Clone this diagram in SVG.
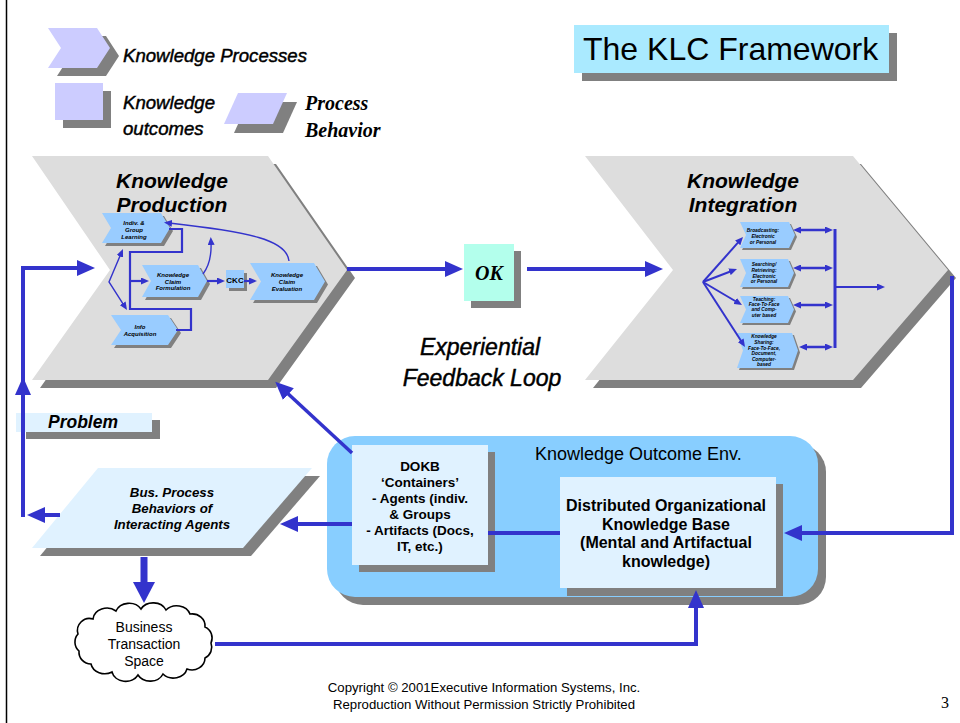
<svg xmlns="http://www.w3.org/2000/svg" width="960" height="723" viewBox="0 0 960 723">
<style>
.sh{fill:#808080}
.chev{fill:#DDDDDD}
.nd{fill:#99CCFF}
.pale{fill:#E0F2FF}
.lav{fill:#CCCCFF}
.ln{fill:none;stroke:#3333CC;stroke-linejoin:miter}
.t{font-family:"Liberation Sans",Arial,sans-serif;fill:#000}
.bi{font-weight:bold;font-style:italic}
.b{font-weight:bold}
.i{font-style:italic}
.semi{stroke:#000;stroke-width:0.45}
.tm{font-family:"Liberation Serif","Times New Roman",serif;font-weight:bold;font-style:italic;fill:#000}
.mid{text-anchor:middle}
</style>
<defs>
<marker id="ah" viewBox="0 0 18 16" refX="6" refY="8" markerWidth="18" markerHeight="16" markerUnits="userSpaceOnUse" orient="auto-start-reverse"><path d="M0,0 L18,8 L0,16 z" fill="#3333CC"/></marker>
<marker id="ahx" viewBox="0 0 21 22" refX="8" refY="11" markerWidth="21" markerHeight="22" markerUnits="userSpaceOnUse" orient="auto-start-reverse"><path d="M0,0 L21,11 L0,22 z" fill="#3333CC"/></marker>
<marker id="ahs" viewBox="0 0 8 7" refX="3" refY="3.5" markerWidth="8" markerHeight="7" markerUnits="userSpaceOnUse" orient="auto-start-reverse"><path d="M0,0 L8,3.5 L0,7 z" fill="#3333CC"/></marker>
</defs>
<rect width="960" height="723" fill="#fff"/>
<line x1="6.5" y1="0" x2="6.5" y2="723" stroke="#000" stroke-width="1.5"/>

<g id="legend">
<polygon class="sh" points="57,36 106,36 119,56 106,76 57,76 70,56"/>
<polygon class="lav" points="48,28 97,28 110,48 97,68 48,68 61,48"/>
<text class="t i semi" x="123" y="62" font-size="18.6">Knowledge Processes</text>
<rect class="sh" x="63" y="91" width="48" height="37"/>
<rect class="lav" x="55" y="83" width="48" height="37"/>
<text class="t i semi" x="123" y="109" font-size="18.6">Knowledge</text>
<text class="t i semi" x="123" y="135" font-size="18.6">outcomes</text>
<polygon class="sh" points="248,102 297,102 283,133 234,133"/>
<polygon class="lav" points="238,93 287,93 273,124 224,124"/>
<text class="tm" x="305" y="110" font-size="20">Process</text>
<text class="tm" x="305" y="137" font-size="20">Behavior</text>
</g>

<g id="title">
<rect class="sh" x="582" y="33" width="315" height="48"/>
<rect x="574" y="25" width="315" height="48" fill="#AAEAFF"/>
<text class="t" x="583" y="60" font-size="32">The KLC Framework</text>
</g>

<g id="knowledge-production">
<polygon class="sh" points="40,164 276,164 355,278 276,388 40,388 118,278"/>
<polygon class="chev" points="32,156 268,156 347,270 268,380 32,380 110,270"/>
<text class="t bi mid" x="172" y="188" font-size="21">Knowledge</text>
<text class="t bi mid" x="172" y="212" font-size="21">Production</text>
</g>

<g id="kp-indiv-learning">
<polygon class="sh" points="105,216 164,216 173,231 164,246 105,246 114,231"/>
<polygon class="nd" points="102,213 161,213 170,228 161,243 102,243 111,228"/>
<text class="t bi mid" x="134" y="224.5" font-size="6">Indiv. &amp;</text>
<text class="t bi mid" x="134" y="231.5" font-size="6">Group</text>
<text class="t bi mid" x="134" y="238.5" font-size="6">Learning</text>
</g>
<g id="kp-claim-formulation">
<polygon class="sh" points="145,268 201,268 210,284 201,300 145,300 154,284"/>
<polygon class="nd" points="142,265 198,265 207,281 198,297 142,297 151,281"/>
<text class="t bi mid" x="173" y="277" font-size="6">Knowledge</text>
<text class="t bi mid" x="173" y="283.5" font-size="6">Claim</text>
<text class="t bi mid" x="173" y="290" font-size="6">Formulation</text>
</g>
<g id="kp-ckc">
<rect class="sh" x="229" y="273" width="18" height="18"/>
<rect class="nd" x="226" y="270" width="18" height="18"/>
<text class="t b mid" x="235" y="282.5" font-size="8">CKC</text>
</g>
<g id="kp-claim-evaluation">
<polygon class="sh" points="253,266 317,266 328,284.5 317,303 253,303 264,284.5"/>
<polygon class="nd" points="250,263 314,263 325,281.5 314,300 250,300 261,281.5"/>
<text class="t bi mid" x="287" y="277" font-size="6">Knowledge</text>
<text class="t bi mid" x="287" y="284" font-size="6">Claim</text>
<text class="t bi mid" x="287" y="291" font-size="6">Evaluation</text>
</g>
<g id="kp-info-acquisition">
<polygon class="sh" points="114,318 171,318 181,333 171,348 114,348 124,333"/>
<polygon class="nd" points="111,315 168,315 178,330 168,345 111,345 121,330"/>
<text class="t bi mid" x="140" y="329" font-size="6">Info</text>
<text class="t bi mid" x="140" y="336" font-size="6">Acquisition</text>
</g>

<g id="knowledge-integration">
<polygon class="sh" points="593,164 861,164 956,278 861,388 593,388 681,278"/>
<polygon class="chev" points="585,156 853,156 948,270 853,380 585,380 673,270"/>
<text class="t bi mid" x="743" y="188" font-size="21">Knowledge</text>
<text class="t bi mid" x="743" y="212" font-size="21">Integration</text>
</g>
<g id="ki-broadcasting">
<polygon class="sh" points="742,224 791,224 797,237 791,250 742,250 748,237"/>
<polygon class="nd" points="740,222 789,222 795,235 789,248 740,248 746,235"/>
<text class="t bi mid" x="763" y="231.7" font-size="4.8">Broadcasting:</text>
<text class="t bi mid" x="763" y="237.5" font-size="4.8">Electronic</text>
<text class="t bi mid" x="763" y="243.5" font-size="4.8">or Personal</text>
</g>
<g id="ki-searching">
<polygon class="sh" points="742,261 790,261 796,275 790,289 742,289 748,275"/>
<polygon class="nd" points="740,259 788,259 794,273 788,287 740,287 746,273"/>
<text class="t bi mid" x="764" y="266" font-size="4.8">Searching/</text>
<text class="t bi mid" x="764" y="272" font-size="4.8">Retrieving:</text>
<text class="t bi mid" x="764" y="277.5" font-size="4.8">Electronic</text>
<text class="t bi mid" x="764" y="283" font-size="4.8">or Personal</text>
</g>
<g id="ki-teaching">
<polygon class="sh" points="742,298 790,298 796,311.5 790,325 742,325 748,311.5"/>
<polygon class="nd" points="740,296 788,296 794,309.5 788,323 740,323 746,309.5"/>
<text class="t bi mid" x="764" y="300.5" font-size="4.8">Teaching:</text>
<text class="t bi mid" x="764" y="306" font-size="4.8">Face-To-Face</text>
<text class="t bi mid" x="764" y="311.3" font-size="4.8">and Comp-</text>
<text class="t bi mid" x="764" y="316.8" font-size="4.8">uter based</text>
</g>
<g id="ki-sharing">
<polygon class="sh" points="739,335 794,335 800,352.5 794,370 739,370 745,352.5"/>
<polygon class="nd" points="737,333 792,333 798,350.5 792,368 737,368 743,350.5"/>
<text class="t bi mid" x="764" y="338" font-size="4.8">Knowledge</text>
<text class="t bi mid" x="764" y="344" font-size="4.8">Sharing:</text>
<text class="t bi mid" x="764" y="349.7" font-size="4.8">Face-To-Face,</text>
<text class="t bi mid" x="764" y="355.2" font-size="4.8">Document,</text>
<text class="t bi mid" x="764" y="360.7" font-size="4.8">Computer-</text>
<text class="t bi mid" x="764" y="366.2" font-size="4.8">based</text>
</g>

<g id="ok">
<rect class="sh" x="471" y="251" width="50" height="57"/>
<rect x="464" y="244" width="50" height="57" fill="#B3FFEC"/>
<text class="tm mid" x="489" y="280" font-size="20">OK</text>
</g>

<g id="feedback-label">
<text class="t i mid semi" x="480" y="355" font-size="23">Experiential</text>
<text class="t i mid semi" x="482" y="386" font-size="23">Feedback Loop</text>
</g>

<g id="problem">
<rect class="sh" x="26" y="420" width="134" height="19"/>
<rect class="pale" x="16" y="413" width="136" height="19"/>
<text class="t bi" x="48" y="427.5" font-size="17.5">Problem</text>
</g>

<g id="business-process">
<polygon class="sh" points="106,476 320,476 251,556 40,556"/>
<polygon class="pale" points="98,468 312,468 243,548 32,548"/>
<text class="t bi mid" x="172" y="497" font-size="13.3">Bus. Process</text>
<text class="t bi mid" x="172" y="513" font-size="13.3">Behaviors of</text>
<text class="t bi mid" x="172" y="529" font-size="13.3">Interacting Agents</text>
</g>

<g id="knowledge-outcome-env">
<rect class="sh" x="335" y="444" width="491" height="161" rx="28"/>
<rect x="327" y="436" width="491" height="161" rx="28" fill="#88CEFF"/>
<text class="t" x="535" y="460" font-size="18">Knowledge Outcome Env.</text>
</g>
<g id="dokb">
<rect class="sh" x="359" y="452" width="136" height="120"/>
<rect class="pale" x="352" y="445" width="136" height="120"/>
<g class="t b" font-size="13.5" text-anchor="middle">
<text x="420" y="470.5">DOKB</text>
<text x="420" y="486.5">‘Containers’</text>
<text x="420" y="502.5">- Agents (indiv.</text>
<text x="420" y="518.5">&amp; Groups</text>
<text x="420" y="534.5">- Artifacts (Docs,</text>
<text x="420" y="550.5">IT, etc.)</text>
</g>
</g>
<g id="dokb-base">
<rect class="sh" x="567" y="484" width="216" height="112"/>
<rect class="pale" x="560" y="477" width="216" height="111"/>
<g class="t b" font-size="16" text-anchor="middle">
<text x="666" y="511">Distributed Organizational</text>
<text x="666" y="529.5">Knowledge Base</text>
<text x="666" y="548">(Mental and Artifactual</text>
<text x="666" y="566.5">knowledge)</text>
</g>
</g>

<g id="business-transaction-space">
<path d="M93,619 A14,12 0 0 1 116,611 A14,12 0 0 1 141,609 A14,12 0 0 1 166,610 A14,12 0 0 1 190,614 A13,12 0 0 1 205,627 A12,12 0 0 1 211,643 A12,12 0 0 1 205,658 A13,12 0 0 1 187,669 A14,12 0 0 1 163,674 A14,12 0 0 1 138,675 A14,12 0 0 1 112,672 A14,12 0 0 1 91,664 A12,12 0 0 1 79,651 A12,12 0 0 1 78,634 A12,12 0 0 1 93,619 z" fill="#fff" stroke="#000" stroke-width="1.6"/>
<text class="t mid" x="144" y="632" font-size="14">Business</text>
<text class="t mid" x="144" y="649" font-size="14">Transaction</text>
<text class="t mid" x="144" y="666" font-size="14">Space</text>
</g>

<g id="connectors">
<g class="ln" stroke-width="4" marker-end="url(#ah)">
<path d="M60,515 H39"/>
<path d="M23,517 V268 H83"/>
<path d="M23,395 V389"/>
<path d="M347,269 H451"/>
<path d="M527,269 H651"/>
<path d="M952,276 V533 H796"/>
<path d="M352,524 H292"/>
<path d="M215,644 H696 V602"/>
<path d="M352,453 L284,390" stroke-width="3.5"/>
</g>
<path class="ln" d="M488,533 H560" stroke-width="4"/>
<path class="ln" d="M144,557 V590" stroke-width="7" marker-end="url(#ahx)"/>

<g class="ln" stroke-width="2.2">
<path d="M169,229 H182 V252 H130 V309 H191 V330 H176"/>
<path d="M130,281 H144" marker-end="url(#ahs)"/>
<path d="M207,281 H220" marker-end="url(#ahs)"/>
<path d="M244,281 H252" marker-end="url(#ahs)"/>
</g>
<g class="ln" stroke-width="1.4">
<path d="M121,253.6 L109,282 L124.3,305.8" marker-start="url(#ahs)" marker-end="url(#ahs)"/>
<path d="M203,274 Q212,262 211,242" marker-end="url(#ahs)"/>
<path d="M289,261 C287,240 250,232 169,223" marker-end="url(#ahs)"/>
</g>

<g class="ln" stroke-width="2" marker-end="url(#ahs)">
<path d="M703,282 L739.7,240.7"/>
<path d="M703,282 L732.3,270.8"/>
<path d="M703,282 L737.7,302.5"/>
<path d="M703,282 L742.3,342.8"/>
<path d="M835,287 H880"/>
</g>
<g class="ln" stroke-width="2.5" marker-start="url(#ahs)" marker-end="url(#ahs)">
<path d="M798,230 H828"/>
<path d="M798,268 H828"/>
<path d="M798,305 H828"/>
<path d="M804,347 H828"/>
</g>
<path class="ln" d="M835,229 V348" stroke-width="3"/>
</g>

<g id="footer">
<text class="t mid" x="484" y="692" font-size="13.2">Copyright © 2001Executive Information Systems, Inc.</text>
<text class="t mid" x="484" y="709" font-size="13.2">Reproduction Without Permission Strictly Prohibited</text>
<text x="945" y="708" font-family="Liberation Serif,'Times New Roman',serif" font-size="16" text-anchor="middle">3</text>
</g>
</svg>
